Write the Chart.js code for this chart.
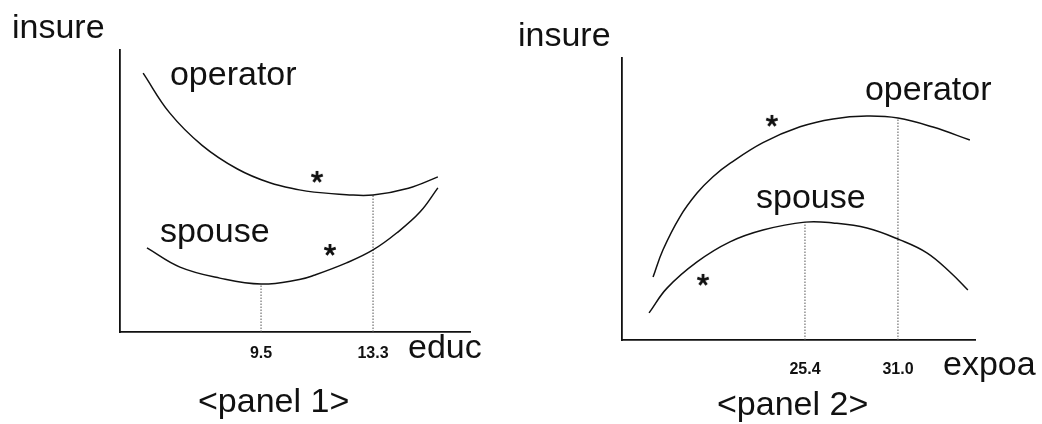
<!DOCTYPE html>
<html>
<head>
<meta charset="utf-8">
<script src="https://cdn.jsdelivr.net/npm/chart.js@4/dist/chart.umd.min.js"></script>
<style>
  html, body { margin: 0; padding: 0; background: #fff; }
  #wrap { position: relative; width: 1042px; height: 424px; overflow: hidden; background: #fff; }
  .panel { position: absolute; top: 0; height: 424px; }
  #p1 { left: 0; width: 510px; }
  #p2 { left: 510px; width: 532px; }
</style>
</head>
<body>
<div id="wrap">
  <div class="panel" id="p1"><canvas id="chart1"></canvas></div>
  <div class="panel" id="p2"><canvas id="chart2"></canvas></div>
</div>
<script>
// ── panel 1: insure vs educ ────────────────────────────
const educOperator    = [5.5, 6.4, 7.5, 8.7, 9.8, 10.8, 11.3, 12.4, 13.3, 14.5, 15.5];
const insureOperator1 = [9.18, 7.77, 6.62, 5.78, 5.29, 5.04, 4.96, 4.87, 4.86, 5.10, 5.50];
const educSpouse      = [5.63, 6.75, 8.1, 9.5, 10.8, 11.3, 12.4, 13.3, 14.1, 14.9, 15.5];
const insureSpouse1   = [2.98, 2.30, 1.91, 1.70, 1.86, 2.01, 2.45, 2.91, 3.51, 4.26, 5.11];
const educTicks       = [9.5, 13.3];
const educStarsX      = [11.4, 11.84];
const educStarsY      = [5.50, 2.91];

// ── panel 2: insure vs expoa ───────────────────────────
const expoaOperator   = [16.25, 16.85, 17.87, 18.9, 19.86, 20.88, 22.87, 25.1, 27.09, 29.13, 31.0, 33.11, 35.33];
const insureOperator2 = [2.23, 3.20, 4.37, 5.21, 5.79, 6.26, 7.00, 7.56, 7.84, 7.94, 7.87, 7.55, 7.09];
const expoaSpouse     = [16.01, 17.09, 18.9, 20.88, 22.87, 25.4, 27.09, 29.13, 31.12, 32.74, 34.13, 35.21];
const insureSpouse2   = [0.96, 1.84, 2.77, 3.48, 3.90, 4.18, 4.15, 3.97, 3.55, 3.09, 2.41, 1.77];
const expoaTicks      = [25.4, 31.0];
const expoaStarsX     = [23.41, 19.26];
const expoaStarsY     = [7.77, 2.13];

const INK = '#111';
const BIG = '34px "Liberation Sans", Arial, sans-serif';

// asterisk marker drawn once, used as pointStyle
const starImg = (() => {
  const c = document.createElement('canvas');
  c.width = 16; c.height = 16;
  const g = c.getContext('2d');
  g.strokeStyle = INK; g.lineWidth = 2.8;
  for (let k = 0; k < 5; k++) {
    const a = -Math.PI / 2 + k * 2 * Math.PI / 5;
    g.beginPath();
    g.moveTo(8, 8);
    g.lineTo(8 + 6 * Math.cos(a), 8 + 6 * Math.sin(a));
    g.stroke();
  }
  return c;
})();

const pts = (xs, ys) => xs.map((x, i) => ({ x, y: ys[i] }));

// text placed either at data coords (data:true) or canvas pixels
const panelText = {
  id: 'panelText',
  afterDraw(chart, args, opts) {
    const { ctx, scales: { x, y } } = chart;
    ctx.save();
    ctx.fillStyle = INK;
    ctx.textBaseline = 'alphabetic';
    (opts.items || []).forEach(it => {
      ctx.font = it.font || BIG;
      ctx.textAlign = it.align || 'left';
      const px = it.data ? x.getPixelForValue(it.x) : it.x;
      const py = it.data ? y.getPixelForValue(it.y) : it.y;
      ctx.fillText(it.text, px, py);
    });
    ctx.restore();
  }
};

function makePanel(id, p) {
  const curve = data => ({
    data, showLine: true, borderColor: INK, borderWidth: 1.5,
    pointRadius: 0, tension: 0.4, fill: false
  });
  const guide = (xv, top) => ({
    data: [{ x: xv, y: 0 }, { x: xv, y: top }], showLine: true,
    borderColor: '#555', borderWidth: 1, borderDash: [1.5, 1.5], pointRadius: 0
  });

  return new Chart(document.getElementById(id), {
    type: 'scatter',
    data: {
      datasets: [
        curve(pts(p.opX, p.opY)),
        curve(pts(p.spX, p.spY)),
        guide(p.ticks[0], p.guideTop[0]),
        guide(p.ticks[1], p.guideTop[1]),
        { data: pts(p.starX, p.starY), pointStyle: starImg, pointRadius: 8 }
      ]
    },
    options: {
      responsive: true,
      maintainAspectRatio: false,
      animation: false,
      layout: { padding: p.padding },
      plugins: {
        legend: { display: false },
        tooltip: { enabled: false },
        panelText: { items: p.text }
      },
      scales: {
        x: {
          type: 'linear', min: p.xMin, max: p.xMax,
          grid: { display: false, drawTicks: false },
          border: { display: true, color: INK, width: 1.8 },
          afterBuildTicks: s => { s.ticks = p.ticks.map(v => ({ value: v })); },
          afterFit: s => { s.height = p.axisH; },
          ticks: {
            padding: p.tickPad, maxRotation: 0, autoSkip: false, color: INK,
            font: { family: '"Liberation Sans", Arial, sans-serif', size: 16, weight: 'bold' },
            callback: v => Number(v).toFixed(1)
          }
        },
        y: {
          type: 'linear', min: 0, max: 10,
          grid: { display: false, drawTicks: false },
          border: { display: true, color: INK, width: 1.8 },
          ticks: { display: false },
          afterFit: s => { s.width = 0; }
        }
      }
    },
    plugins: [panelText]
  });
}

makePanel('chart1', {
  opX: educOperator, opY: insureOperator1,
  spX: educSpouse, spY: insureSpouse1,
  ticks: educTicks, guideTop: [1.70, 4.86],
  starX: educStarsX, starY: educStarsY,
  xMin: 4.715, xMax: 16.59,
  padding: { left: 120, top: 50, right: 40, bottom: 0 },
  axisH: 92, tickPad: 12,
  text: [
    { text: 'insure', x: 12, y: 38 },
    { text: 'operator', x: 6.41, y: 8.76, data: true },
    { text: 'spouse', x: 6.07, y: 3.19, data: true },
    { text: 'educ', x: 408, y: 358 },
    { text: '<panel 1>', x: 198, y: 412 }
  ]
});

makePanel('chart2', {
  opX: expoaOperator, opY: insureOperator2,
  spX: expoaSpouse, spY: insureSpouse2,
  ticks: expoaTicks, guideTop: [4.18, 7.87],
  starX: expoaStarsX, starY: expoaStarsY,
  xMin: 14.38, xMax: 35.64,
  padding: { left: 112, top: 58, right: 67, bottom: 0 },
  axisH: 84, tickPad: 20,
  text: [
    { text: 'insure', x: 8, y: 46 },
    { text: 'operator', x: 29.01, y: 8.51, data: true },
    { text: 'spouse', x: 22.45, y: 4.68, data: true },
    { text: 'expoa', x: 433, y: 375 },
    { text: '<panel 2>', x: 207, y: 415 }
  ]
});
</script>
</body>
</html>
